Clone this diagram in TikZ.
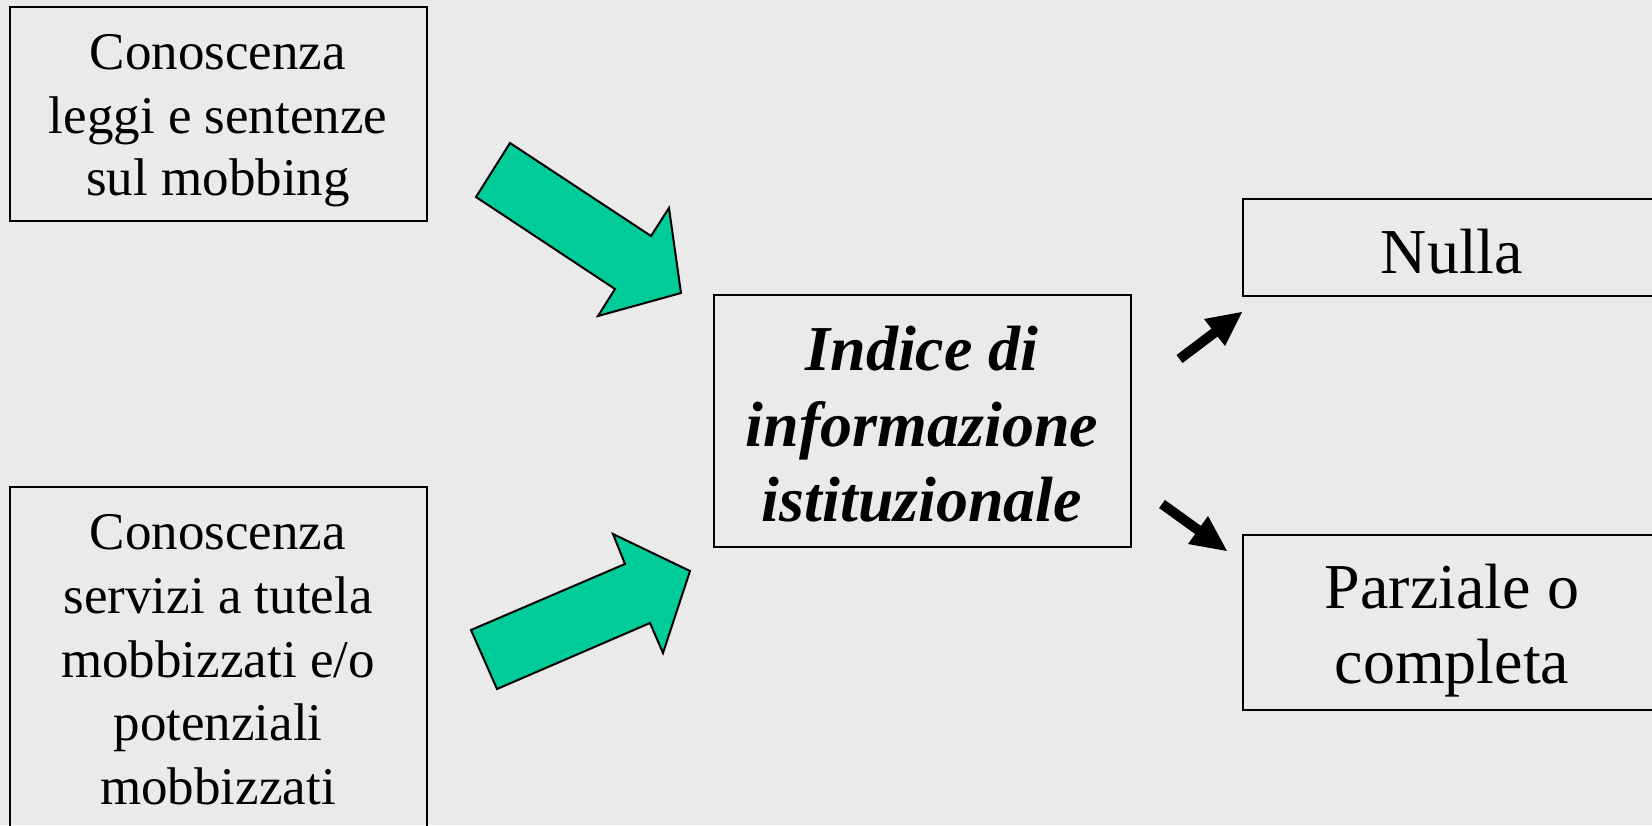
\documentclass[tikz,border=0pt]{standalone}
\usepackage{fontspec}
\setmainfont{Liberation Serif}
\definecolor{bgc}{HTML}{EAEAEA}
\definecolor{teal}{HTML}{00CC99}
\tikzset{
  box/.style={draw=black, line width=2pt, rectangle, inner sep=0pt},
  txt/.style={anchor=base, inner sep=0pt, font=\fontsize{53}{60}\selectfont},
  big/.style={anchor=base, inner sep=0pt, font=\fontsize{64}{72}\selectfont},
  bigbi/.style={anchor=base, inner sep=0pt, font=\fontsize{64}{72}\selectfont\bfseries\itshape},
  blockarrow/.style={fill=teal, draw=black, line width=2pt, line join=miter},
  blkshaft/.style={draw=black, line width=10pt, line cap=butt},
  blkhead/.style={fill=black}
}
\begin{document}
\begin{tikzpicture}[x=1pt,y=-1pt]
\useasboundingbox (0,0) rectangle (1652,825);
\fill[bgc] (0,0) rectangle (1652,825);
\clip (0,0) rectangle (1652,825);

% boxes
\node[box, minimum width=417pt, minimum height=214pt] (k1) at (218.5,114) {};
\node[box, minimum width=417pt, minimum height=440pt] (k2) at (218.5,707) {};
\node[box, minimum width=417pt, minimum height=252pt] (idx) at (922.5,421) {};
\node[box, minimum width=418pt, minimum height=97pt] (nulla) at (1452,247.5) {};
\node[box, minimum width=418pt, minimum height=175pt] (parz) at (1452,622.5) {};

% texts
\node[txt] (k1a) at (218,69) {Conoscenza};
\node[txt] (k1b) at (218,133) {leggi e sentenze};
\node[txt] (k1c) at (218,195) {sul mobbing};

\node[txt] (k2a) at (218,549) {Conoscenza};
\node[txt] (k2b) at (218,613) {servizi a tutela};
\node[txt] (k2c) at (218,677) {mobbizzati e/o};
\node[txt] (k2d) at (218,740) {potenziali};
\node[txt] (k2e) at (218,804) {mobbizzati};

\node[bigbi] (ia) at (922,370) {Indice di};
\node[bigbi] (ib) at (922,446) {informazione};
\node[bigbi] (ic) at (922,521) {istituzionale};

\node[big] (na) at (1452,273) {Nulla};
\node[big] (pa) at (1452,608) {Parziale o};
\node[big] (pb) at (1452,683) {completa};

% green block arrows
\draw[blockarrow] (510,143) -- (476,197) -- (615,289) -- (598,316) -- (681,293) -- (669,208) -- (651,236) -- cycle;
\draw[blockarrow] (471,630) -- (497,689) -- (650,623) -- (663,653) -- (690,571) -- (613,534) -- (625,564) -- cycle;

% black arrows
\coordinate (t1) at (1179.5,359);
\coordinate (b1) at (1216,331.5);
\coordinate (h1) at (1242,312);
\draw[blkshaft] (t1) -- (b1);
\fill[blkhead] (h1) -- (1204,319) -- (1225,346) -- cycle;

\coordinate (t2) at (1162,504);
\coordinate (b2) at (1199.5,531);
\coordinate (h2) at (1227,551);
\draw[blkshaft] (t2) -- (b2);
\fill[blkhead] (h2) -- (1208,516) -- (1188,544) -- cycle;
\end{tikzpicture}
\end{document}
